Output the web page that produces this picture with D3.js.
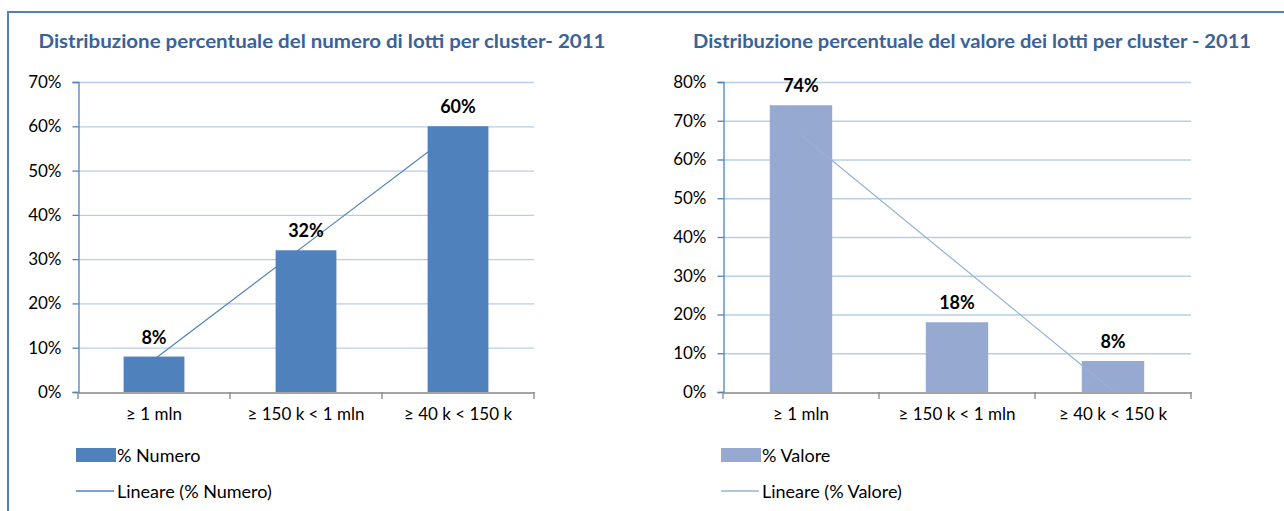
<!DOCTYPE html>
<html>
<head>
<meta charset="utf-8">
<script src="https://cdn.jsdelivr.net/npm/d3@7"></script>
<style>
  body { margin: 0; background: #fff; }
  svg { display: block; font-family: Lato, "Open Sans", sans-serif; }
</style>
</head>
<body>
<script>
// data
const categories = ["\u2265 1 mln", "\u2265 150 k < 1 mln", "\u2265 40 k < 150 k"];
const numero = [8, 32, 60];
const valore = [74, 18, 8];
const ticksNumero = [0, 10, 20, 30, 40, 50, 60, 70];
const ticksValore = [0, 10, 20, 30, 40, 50, 60, 70, 80];

const W = 1284, H = 511;
const FONT = "Lato, 'Open Sans', sans-serif";
const svg = d3.select("body").append("svg").attr("width", W).attr("height", H);

// outer frame
svg.append("line").attr("x1", 8).attr("x2", W).attr("y1", 12).attr("y2", 12)
    .attr("stroke", "#4F81BD").attr("stroke-width", 2);
svg.append("line").attr("x1", 8).attr("x2", 8).attr("y1", 11).attr("y2", H)
    .attr("stroke", "#4F81BD").attr("stroke-width", 2);

// linear trend (least squares) over category index
function trend(vals) {
    const xs = vals.map((d, i) => i + 1);
    const mx = d3.mean(xs), my = d3.mean(vals);
    const b = d3.sum(xs, (x, i) => (x - mx) * (vals[i] - my)) / d3.sum(xs, x => (x - mx) * (x - mx));
    const a = my - b * mx;
    return xs.map(x => a + b * x);
}

function drawChart(opt) {
    const g = svg.append("g");
    const x = d3.scaleBand().domain(categories).range([opt.x0, opt.x1]).paddingInner(0.6).paddingOuter(0.3);
    const y = d3.scaleLinear().domain([0, opt.max]).range([392, 82]);

    g.append("text").attr("x", opt.tx).attr("y", 48).attr("text-anchor", "middle")
        .attr("font-size", 19).attr("font-weight", "bold").attr("fill", "#3A6298")
        .attr("textLength", opt.tw).attr("lengthAdjust", "spacingAndGlyphs")
        .text(opt.title);

    // grid
    g.append("g").selectAll("line").data(opt.ticks.slice(1)).join("line")
        .attr("x1", opt.x0).attr("x2", opt.x1)
        .attr("y1", d => y(d) + 0.5).attr("y2", d => y(d) + 0.5)
        .attr("stroke", "#B9CDE5").attr("stroke-width", 1.3);

    const yAxis = g.append("g").attr("transform", `translate(${opt.x0 + 0.5},0)`)
        .call(d3.axisLeft(y).tickValues(opt.ticks).tickSize(6).tickPadding(11).tickFormat(d => d + "%"));
    yAxis.attr("font-family", FONT).attr("font-size", 17);
    yAxis.select(".domain").attr("stroke", "#4F81BD").attr("stroke-width", 1.3);
    yAxis.selectAll(".tick line").attr("stroke", "#4F81BD").attr("stroke-width", 1.3);
    yAxis.selectAll("text").attr("fill", "#000");

    const t = trend(opt.values);
    const line = d3.line().x((d, i) => x(categories[i]) + x.bandwidth() / 2).y(d => y(d));
    const drawTrend = () => g.append("path").attr("d", line(t)).attr("fill", "none")
        .attr("stroke", opt.lineColor).attr("stroke-width", 1.2);

    if (!opt.lineOnTop) drawTrend();

    g.append("g").selectAll("rect").data(opt.values).join("rect")
        .attr("x", (d, i) => x(categories[i])).attr("width", x.bandwidth())
        .attr("y", d => y(d)).attr("height", d => y(0) - y(d))
        .attr("fill", opt.color);

    if (opt.lineOnTop) drawTrend();

    // x axis
    const xAxis = g.append("g").attr("transform", "translate(0,392.5)")
        .call(d3.axisBottom(x).tickSize(0).tickPadding(15));
    xAxis.attr("font-family", FONT).attr("font-size", 17);
    xAxis.select(".domain").attr("stroke", "#868686").attr("stroke-width", 1.3);
    xAxis.selectAll("text").attr("fill", "#000");
    g.append("g").selectAll("line").data(d3.range(categories.length + 1)).join("line")
        .attr("x1", i => opt.x0 + i * (opt.x1 - opt.x0) / categories.length)
        .attr("x2", i => opt.x0 + i * (opt.x1 - opt.x0) / categories.length)
        .attr("y1", 392).attr("y2", 399).attr("stroke", "#868686").attr("stroke-width", 1.3);

    // data labels
    g.append("g").selectAll("text").data(opt.values).join("text")
        .attr("x", (d, i) => x(categories[i]) + x.bandwidth() / 2)
        .attr("y", d => y(d) - 13).attr("text-anchor", "middle")
        .attr("font-size", 18).attr("font-weight", "bold").attr("fill", "#000")
        .text(d => d + "%");

    // legend
    const lx = opt.x0 - 2;
    g.append("rect").attr("x", lx).attr("y", 448).attr("width", 40).attr("height", 14).attr("fill", opt.color);
    g.append("text").attr("x", lx + 41).attr("y", 462).attr("font-size", 18).text(opt.legend);
    g.append("line").attr("x1", lx).attr("x2", lx + 38).attr("y1", 491).attr("y2", 491)
        .attr("stroke", opt.lineColor).attr("stroke-width", 1.3);
    g.append("text").attr("x", lx + 41).attr("y", 498).attr("font-size", 18).text("Lineare (" + opt.legend + ")");
}

drawChart({
    x0: 78, x1: 534, max: 70, ticks: ticksNumero, values: numero,
    color: "#4F81BD", lineColor: "#4F81BD", lineOnTop: false,
    title: "Distribuzione percentuale del numero di lotti per cluster-  2011", tx: 322, tw: 567,
    legend: "% Numero"
});
drawChart({
    x0: 723, x1: 1191, max: 80, ticks: ticksValore, values: valore,
    color: "#95A9D1", lineColor: "#95B3D7", lineOnTop: true,
    title: "Distribuzione percentuale del valore dei lotti per cluster - 2011", tx: 972, tw: 558,
    legend: "% Valore"
});
</script>
</body>
</html>
